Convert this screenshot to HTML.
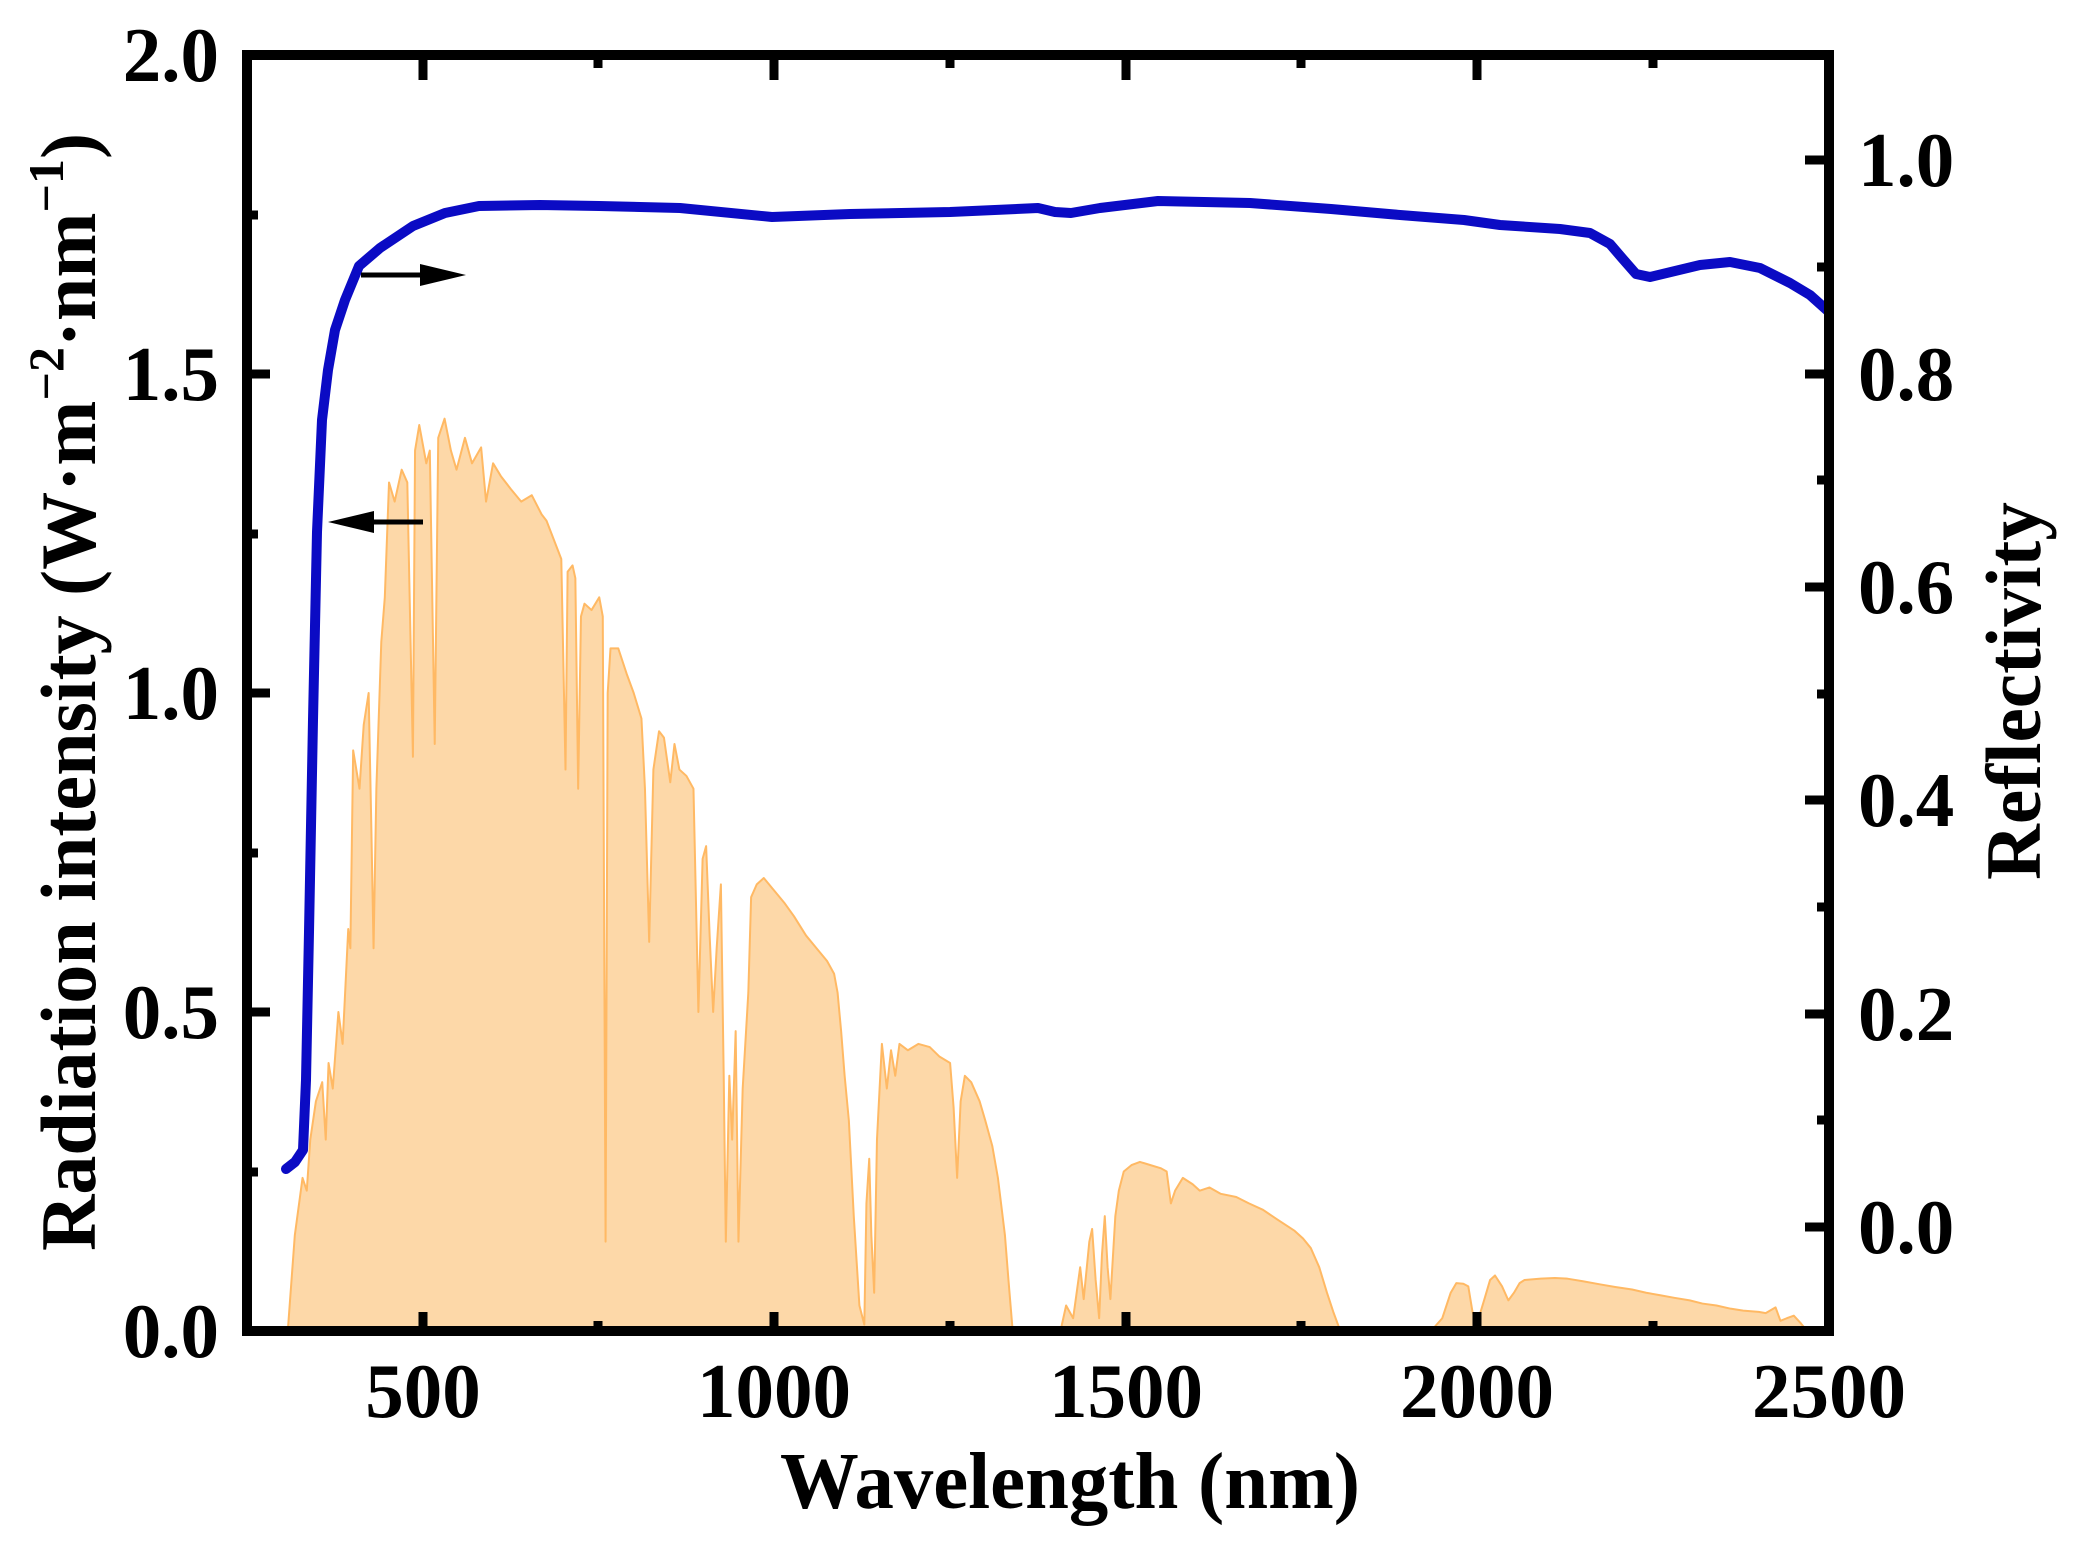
<!DOCTYPE html>
<html><head><meta charset="utf-8"><style>
html,body{margin:0;padding:0;background:#fff;}
svg{display:block;}
text{font-family:"Liberation Serif",serif;font-weight:bold;fill:#000;}
</style></head><body>
<svg width="2077" height="1557" viewBox="0 0 2077 1557" xmlns="http://www.w3.org/2000/svg">
<g transform="translate(247,1331) scale(0.7031,-638) translate(-250,0)">
<path fill="#fdd8a8" stroke="#ffb964" stroke-width="2" vector-effect="non-scaling-stroke" stroke-linejoin="round" d="
M300,0 L308,0 L318,0.15 L329,0.24 L335,0.22 L340,0.3 L348,0.36 L357,0.39 L362,0.3 L366,0.42 L372,0.38 L380,0.5 L386,0.45 L394,0.63 L397,0.6 L401,0.91 L410,0.85 L416,0.95 L423,1.0 L427,0.78 L430,0.6 L434,0.85 L441,1.08 L446,1.15 L452,1.33 L460,1.3 L470,1.35 L478,1.33 L486,0.9 L489,1.38 L495,1.42 L505,1.36 L510,1.38 L517,0.92 L522,1.4 L531,1.43 L540,1.38 L548,1.35 L560,1.4 L570,1.36 L583,1.385 L590,1.3 L600,1.36 L611,1.34 L625,1.32 L640,1.3 L655,1.31 L669,1.28 L676,1.27 L683,1.25 L690,1.23 L697,1.21 L703,0.88 L706,1.19 L713,1.2 L717,1.18 L721,0.85 L725,1.12 L730,1.14 L740,1.13 L751,1.15 L756,1.12 L760,0.14 L763,1.0 L767,1.07 L778,1.07 L790,1.03 L800,1.0 L811,0.96 L816,0.85 L822,0.61 L828,0.88 L836,0.94 L843,0.93 L852,0.86 L858,0.92 L865,0.88 L875,0.87 L885,0.85 L892,0.5 L898,0.74 L903,0.76 L908,0.62 L913,0.5 L918,0.6 L924,0.7 L928,0.4 L931,0.14 L936,0.4 L940,0.3 L945,0.47 L949,0.14 L955,0.38 L963,0.53 L967,0.68 L975,0.7 L985,0.71 L1000,0.69 L1015,0.67 L1028,0.65 L1045,0.62 L1060,0.6 L1075,0.58 L1085,0.56 L1090,0.53 L1095,0.47 L1100,0.4 L1106,0.33 L1113,0.18 L1121,0.04 L1128,0.01 L1131,0.2 L1135,0.27 L1138,0.15 L1142,0.06 L1146,0.3 L1153,0.45 L1160,0.38 L1166,0.44 L1172,0.40 L1178,0.45 L1190,0.44 L1205,0.45 L1221,0.445 L1235,0.43 L1250,0.42 L1255,0.35 L1260,0.24 L1265,0.36 L1271,0.40 L1280,0.39 L1292,0.36 L1300,0.33 L1310,0.29 L1318,0.24 L1328,0.15 L1333,0.08 L1339,0 L1400,0 L1407,0 L1415,0.04 L1425,0.02 L1435,0.1 L1440,0.05 L1448,0.14 L1452,0.16 L1457,0.08 L1462,0.02 L1466,0.12 L1470,0.18 L1474,0.1 L1478,0.05 L1485,0.18 L1490,0.22 L1497,0.25 L1508,0.26 L1520,0.265 L1535,0.26 L1550,0.255 L1558,0.25 L1564,0.2 L1570,0.22 L1581,0.24 L1595,0.23 L1605,0.22 L1619,0.225 L1635,0.215 L1657,0.21 L1675,0.2 L1695,0.19 L1715,0.175 L1740,0.157 L1752,0.145 L1763,0.13 L1775,0.1 L1786,0.06 L1795,0.03 L1805,0 L1934,0 L1950,0.02 L1962,0.06 L1970,0.075 L1980,0.074 L1987,0.07 L1993,0.03 L1999,0.01 L2010,0.05 L2018,0.08 L2025,0.087 L2035,0.07 L2044,0.048 L2052,0.06 L2060,0.075 L2067,0.08 L2090,0.082 L2110,0.083 L2128,0.082 L2150,0.078 L2175,0.073 L2196,0.069 L2220,0.065 L2240,0.06 L2260,0.056 L2280,0.052 L2302,0.048 L2320,0.043 L2340,0.04 L2360,0.035 L2378,0.032 L2400,0.03 L2410,0.028 L2424,0.037 L2431,0.016 L2440,0.02 L2450,0.024 L2460,0.012 L2469,0 Z"/>
</g>
<polyline fill="none" stroke="#0b0bc4" stroke-width="10" stroke-linejoin="round" stroke-linecap="round" points="286,1169 295,1162 303,1150 306,1080 309,932 313,720 317,532 322,420 328,370 335,330 345,300 359,266 380,248 413,226 445,213 479,206 540,205 599,206 680,208 772,217 850,214 950,212 1038,208 1055,212 1071,213 1100,208 1158,201 1250,203 1331,209 1400,215 1464,220 1500,225 1560,229 1590,233 1610,244 1622,258 1636,274 1650,277 1675,271 1700,265 1730,262 1760,268 1790,283 1810,295 1829,312"/>
<line x1="361" y1="275" x2="425" y2="275" stroke="#000" stroke-width="5"/>
<polygon points="420,264 466,275 420,286" fill="#000"/>
<line x1="423" y1="522" x2="370" y2="522" stroke="#000" stroke-width="5"/>
<polygon points="374,511 328,522 374,533" fill="#000"/>
<g stroke="#000" stroke-width="9">
<line x1="423" y1="1331" x2="423" y2="1312"/><line x1="774" y1="1331" x2="774" y2="1312"/><line x1="1126" y1="1331" x2="1126" y2="1312"/><line x1="1477" y1="1331" x2="1477" y2="1312"/>
<line x1="598" y1="1331" x2="598" y2="1321"/><line x1="950" y1="1331" x2="950" y2="1321"/><line x1="1301" y1="1331" x2="1301" y2="1321"/><line x1="1653" y1="1331" x2="1653" y2="1321"/>
<line x1="423" y1="55" x2="423" y2="80"/><line x1="774" y1="55" x2="774" y2="80"/><line x1="1126" y1="55" x2="1126" y2="80"/><line x1="1477" y1="55" x2="1477" y2="80"/>
<line x1="598" y1="55" x2="598" y2="68"/><line x1="950" y1="55" x2="950" y2="68"/><line x1="1301" y1="55" x2="1301" y2="68"/><line x1="1653" y1="55" x2="1653" y2="68"/>
<line x1="247" y1="1012" x2="270" y2="1012"/><line x1="247" y1="693" x2="270" y2="693"/><line x1="247" y1="374" x2="270" y2="374"/>
<line x1="247" y1="1172" x2="258" y2="1172"/><line x1="247" y1="853" x2="258" y2="853"/><line x1="247" y1="534" x2="258" y2="534"/><line x1="247" y1="215" x2="258" y2="215"/>
<line x1="1829" y1="1227" x2="1805" y2="1227"/><line x1="1829" y1="1014" x2="1805" y2="1014"/><line x1="1829" y1="800" x2="1805" y2="800"/><line x1="1829" y1="587" x2="1805" y2="587"/><line x1="1829" y1="374" x2="1805" y2="374"/><line x1="1829" y1="160" x2="1805" y2="160"/>
<line x1="1829" y1="1120" x2="1817" y2="1120"/><line x1="1829" y1="907" x2="1817" y2="907"/><line x1="1829" y1="694" x2="1817" y2="694"/><line x1="1829" y1="480" x2="1817" y2="480"/><line x1="1829" y1="267" x2="1817" y2="267"/>
</g>
<rect x="247" y="55" width="1582" height="1276" fill="none" stroke="#000" stroke-width="10"/>
<g font-size="77" text-anchor="middle">
<text x="423" y="1417">500</text><text x="774" y="1417">1000</text><text x="1126" y="1417">1500</text><text x="1477" y="1417">2000</text><text x="1829" y="1417">2500</text>
</g>
<g font-size="77" text-anchor="end">
<text x="219" y="1357">0.0</text><text x="219" y="1038">0.5</text><text x="219" y="719">1.0</text><text x="219" y="400">1.5</text><text x="219" y="81">2.0</text>
</g>
<g font-size="77" text-anchor="start">
<text x="1858" y="1253">0.0</text><text x="1858" y="1040">0.2</text><text x="1858" y="826">0.4</text><text x="1858" y="613">0.6</text><text x="1858" y="400">0.8</text><text x="1858" y="186">1.0</text>
</g>
<text x="1070" y="1508" font-size="80" text-anchor="middle" textLength="580" lengthAdjust="spacingAndGlyphs">Wavelength (nm)</text>
<text transform="translate(95,692) rotate(-90)" font-size="78" text-anchor="middle" textLength="1118" lengthAdjust="spacingAndGlyphs">Radiation intensity (W·m<tspan font-size="50" dy="-32">−2</tspan><tspan dy="32">·nm</tspan><tspan font-size="50" dy="-32">−1</tspan><tspan dy="32">)</tspan></text>
<text transform="translate(2040,691) rotate(-90)" font-size="78" text-anchor="middle" textLength="378" lengthAdjust="spacingAndGlyphs">Reflectivity</text>
</svg>
</body></html>
